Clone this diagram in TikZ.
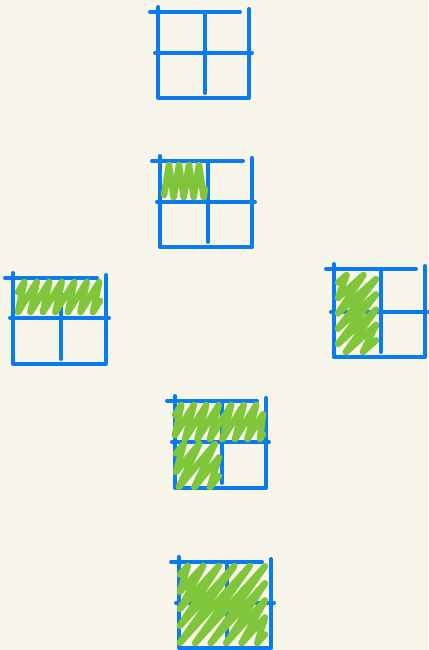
\documentclass[tikz,border=0pt]{standalone}
\definecolor{bgc}{RGB}{248,246,234}
\definecolor{gridblue}{RGB}{10,124,242}
\definecolor{scribgreen}{RGB}{128,198,58}
\tikzset{
  bl/.style={draw=gridblue, line width=4pt, line cap=round, line join=round},
  gr/.style={draw=scribgreen, line width=6.5pt, line cap=round, line join=round}
}
% L T R B MX MY
\newcommand\gridbox[6]{%
  \draw[bl] (#1-8,#2) -- (#3-9,#2);
  \draw[bl] (#1,#2-5) -- (#1,#4) -- (#3,#4) -- (#3,#2-3);
  \draw[bl] (#1-3,#6) -- (#3+3,#6);
  \draw[bl] (#5,#2) -- (#5,#4-5);
}
% xL yT xR yB k step
\newcommand\scrib[6]{%
  \pgfmathsetmacro\sCmin{#1+#2/#5}%
  \pgfmathsetmacro\sCmax{#3+#4/#5}%
  \pgfmathtruncatemacro\sN{(\sCmax-\sCmin)/#6 - 0.5}%
  \foreach \i in {0,...,\sN}{%
    \pgfmathsetmacro\sC{\sCmin+(\i+0.5)*#6}%
    \pgfmathsetmacro\sAx{max(#1,\sC-#4/#5)}%
    \pgfmathsetmacro\sAy{#5*(\sC-\sAx)}%
    \pgfmathsetmacro\sBx{min(#3,\sC-#2/#5)}%
    \pgfmathsetmacro\sBy{#5*(\sC-\sBx)}%
    \pgfmathsetmacro\sCn{\sC+#6}%
    \pgfmathsetmacro\sDx{max(#1,\sCn-#4/#5)}%
    \pgfmathsetmacro\sDy{#5*(\sCn-\sDx)}%
    \ifnum\i<\sN
      \draw[gr] (\sAx,\sAy) -- (\sBx,\sBy) -- (\sDx,\sDy);
    \else
      \draw[gr] (\sAx,\sAy) -- (\sBx,\sBy);
    \fi
  }%
}
\begin{document}
\begin{tikzpicture}[x=1pt,y=-1pt]
\fill[bgc] (0,0) rectangle (428,650);
\useasboundingbox (0,0) rectangle (428,650);
% grid 1
\gridbox{158}{12}{249}{98}{205}{53}
% grid 2
\gridbox{160}{161}{252}{247}{208}{202}
\scrib{164}{165}{205}{197}{6}{10}
% grid 3
\gridbox{13}{278}{106}{364}{61}{318}
\scrib{18}{282}{100}{312}{1.6}{12.5}
% grid 4
\gridbox{334}{269}{425}{357}{381}{312}
\scrib{338}{275}{376}{352}{0.9}{17}
% grid 5
\gridbox{175}{401}{266}{488}{222}{442}
\scrib{175}{405}{263}{439}{1.6}{12.5}
\scrib{176}{444}{219}{487}{1.2}{15.5}
% grid 6
\gridbox{179}{562}{271}{648}{227}{603}
\scrib{180}{566}{265}{643}{1.1}{15.5}
\end{tikzpicture}
\end{document}
